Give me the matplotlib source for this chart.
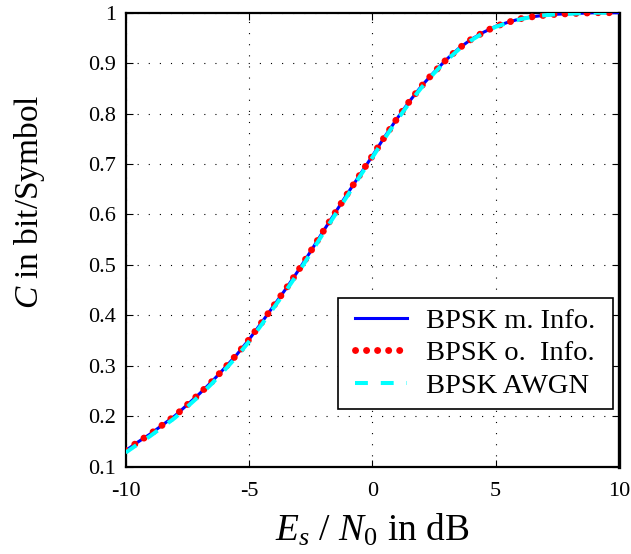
import numpy as np
import matplotlib
matplotlib.use("Agg")
import matplotlib.pyplot as plt
from matplotlib.patches import Rectangle

plt.rcParams['font.family'] = ['Liberation Serif', 'DejaVu Serif']
plt.rcParams['mathtext.fontset'] = 'custom'
plt.rcParams['mathtext.rm'] = 'Liberation Serif'
plt.rcParams['mathtext.it'] = 'Liberation Serif:italic'
plt.rcParams['axes.unicode_minus'] = False

# Es/N0 in dB
snr_db = [-10, -9.5, -9, -8.5, -8, -7.5, -7, -6.5, -6, -5.5, -5, -4.5, -4, -3.5,
          -3, -2.5, -2, -1.5, -1, -0.5, 0, 0.5, 1, 1.5, 2, 2.5, 3, 3.5, 4, 4.5,
          5, 5.5, 6, 6.5, 7, 7.5, 8, 8.5, 9, 9.5, 10]

# capacity
cap_m_info = [0.132, 0.149, 0.165, 0.183, 0.201, 0.223, 0.245, 0.269, 0.295, 0.322,
              0.352, 0.385, 0.419, 0.453, 0.489, 0.527, 0.566, 0.604, 0.642, 0.679,
              0.716, 0.754, 0.790, 0.824, 0.855, 0.882, 0.907, 0.929, 0.947, 0.961,
              0.973, 0.981, 0.988, 0.992, 0.995, 0.997, 0.998, 0.999, 1.000, 1.000, 1.000]
cap_o_info = [0.132, 0.149, 0.165, 0.183, 0.201, 0.223, 0.245, 0.269, 0.295, 0.322,
              0.352, 0.385, 0.419, 0.453, 0.489, 0.527, 0.566, 0.604, 0.642, 0.679,
              0.716, 0.754, 0.790, 0.824, 0.855, 0.882, 0.907, 0.929, 0.947, 0.961,
              0.973, 0.981, 0.988, 0.992, 0.995, 0.997, 0.998, 0.999, 1.000, 1.000, 1.000]
cap_awgn = [0.128, 0.145, 0.161, 0.179, 0.197, 0.219, 0.241, 0.265, 0.291, 0.318,
            0.348, 0.381, 0.415, 0.449, 0.485, 0.523, 0.562, 0.600, 0.638, 0.676,
            0.713, 0.751, 0.787, 0.821, 0.852, 0.880, 0.905, 0.927, 0.945, 0.960,
            0.972, 0.980, 0.987, 0.992, 0.995, 0.997, 0.998, 0.999, 1.000, 1.000, 1.000]

labels = ['BPSK m. Info.', 'BPSK o.  Info.', 'BPSK AWGN']
xticks = [-10, -5, 0, 5, 10]
yticks = [0.1, 0.2, 0.3, 0.4, 0.5, 0.6, 0.7, 0.8, 0.9, 1.0]
yticklabels = ['0.1', '0.2', '0.3', '0.4', '0.5', '0.6', '0.7', '0.8', '0.9', '1']

fig = plt.figure(figsize=(6.31, 5.54), dpi=100)
ax = fig.add_axes([0.1992, 0.1576, 0.7818, 0.8195])

ax.plot(snr_db, cap_m_info, color='blue', lw=2.2, label=labels[0], zorder=3)
ax.plot(snr_db, cap_o_info, color='red', lw=5.0, ls=(0, (0.01, 1.58)),
        dash_capstyle='round', label=labels[1], zorder=4)
ax.plot(snr_db, cap_awgn, color='cyan', lw=2.9, ls=(0, (3.2, 3.2)),
        label=labels[2], zorder=5)

ax.set_xlim(-10, 10)
ax.set_ylim(0.1, 1)
ax.set_xticks(xticks)
ax.set_xticklabels([str(t) for t in xticks])
ax.set_yticks(yticks)
ax.set_yticklabels(yticklabels)
ax.tick_params(direction='in', length=5, width=0.8, labelsize=16, top=True, right=True)
ax.tick_params(axis='x', pad=11)
ax.tick_params(axis='y', pad=7)
ax.grid(True, color='black', lw=0.8, ls=(0, (1, 9)))
for s in ax.spines.values():
    s.set_linewidth(1.6)
    s.set_color('black')
ax.spines['right'].set_linewidth(2.4)

ax.set_xlabel(r'$E_s$ / $N_0$ in dB', fontsize=27, labelpad=8)
ax.set_ylabel(r'$C$ in bit/Symbol', fontsize=24)
ax.yaxis.set_label_coords(-0.16, 0.583)

# legend box
ax.add_patch(Rectangle((0.4304, 0.1271), 0.5574, 0.2445, transform=ax.transAxes,
                       facecolor='white', edgecolor='black', lw=1.2, zorder=6))
leg = ax.legend(loc='center', bbox_to_anchor=(0.7091, 0.2494), borderaxespad=0,
                fontsize=20.5, handlelength=1.8, labelspacing=0.22, handletextpad=0.7,
                borderpad=0.0, frameon=False)
leg.set_zorder(7)

fig.savefig('out.png', dpi=100)
